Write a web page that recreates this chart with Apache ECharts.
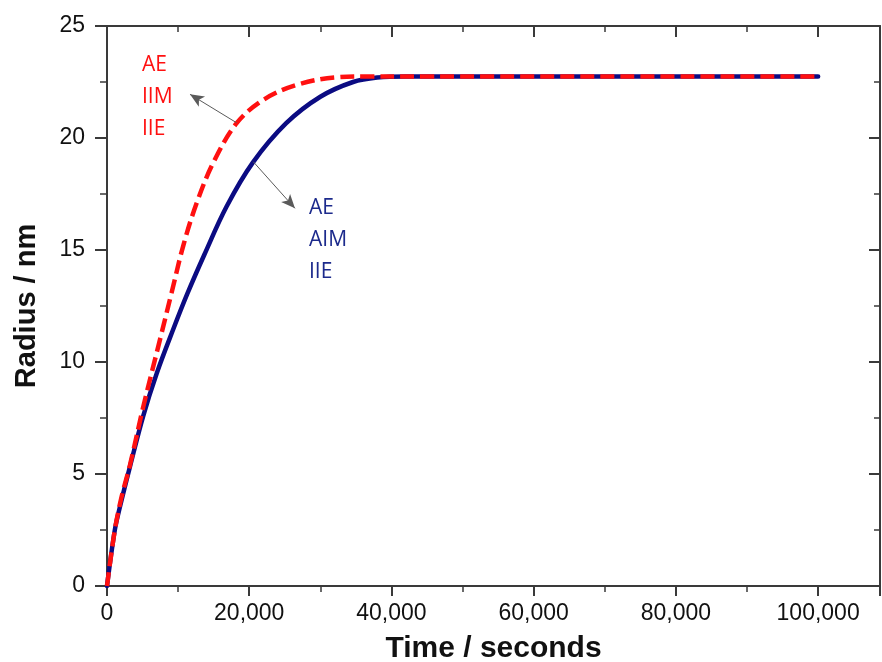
<!DOCTYPE html>
<html>
<head>
<meta charset="utf-8">
<title>Radius vs time</title>
<script src="https://cdn.jsdelivr.net/npm/echarts@6/dist/echarts.min.js"></script>
<style>
  html, body { margin: 0; padding: 0; background: #fff; }
  #chart { width: 882px; height: 662px; }
</style>
</head>
<body>
<div id="chart"></div>
<script>
// values
const timeBlue = [0, 1100, 1830, 3230, 5100, 7000, 9300, 11300, 13700, 16800, 20500, 25200, 30000, 34600, 38000, 42000, 50000, 100000]
const radiusBlue = [0, 2.5, 3.55, 5.33, 7.6, 9.5, 11.45, 13.05, 14.8, 16.93, 18.9, 20.66, 21.84, 22.5, 22.7, 22.75, 22.75, 22.75]

const timeRed = [0, 1100, 2060, 3230, 5100, 7450, 9090, 10730, 12610, 14950, 18230, 21970, 26670, 32290, 37000, 42000, 100000]
const radiusRed = [0, 2.5, 3.99, 5.4, 8.0, 11.0, 13.1, 15.2, 17.1, 18.9, 20.66, 21.7, 22.37, 22.71, 22.75, 22.75, 22.75]

const xTicks = [0, 20000, 40000, 60000, 80000, 100000]
const yTicks = [0, 5, 10, 15, 20, 25]

// annotation arrows: [tail, head] in data units
const redArrow = [[18230, 20.68], [11670, 21.95]]
const blueArrow = [[20570, 18.94], [26430, 16.86]]

const redLabels = ['AE', 'IIM', 'IIE']
const blueLabels = ['AE', 'AIM', 'IIE']

const BLUE = '#0b0b82'
const RED = '#ff1010'
const AXIS = '#3a3a3a'

const pairs = (xs, ys) => xs.map((x, i) => [x, ys[i]])

const chart = echarts.init(document.getElementById('chart'))

const fmt = v => v.toLocaleString('en-US')

const baseX = {
  type: 'value',
  min: 0,
  max: 108700,
  interval: 20000,
  splitLine: { show: false },
  axisLine: { show: true, onZero: false, lineStyle: { color: AXIS, width: 2 } }
}
const baseY = {
  type: 'value',
  min: 0,
  max: 25,
  interval: 5,
  splitLine: { show: false },
  axisLine: { show: true, onZero: false, lineStyle: { color: AXIS, width: 2 } }
}

function arrowLine(a) {
  return {
    silent: true,
    symbol: ['none', 'arrow'],
    symbolSize: [9, 14],
    label: { show: false },
    lineStyle: { color: '#5a5a5a', width: 1, type: 'solid' },
    data: [[{ coord: a[0] }, { coord: a[1] }]]
  }
}

function textBlock(labels, left, top, color) {
  return labels.map((s, i) => ({
    type: 'text',
    left: left,
    top: top + i * 32,
    style: {
      text: s,
      fill: color,
      font: '21px "Open Sans", sans-serif'
    }
  }))
}

chart.setOption({
  animation: false,
  backgroundColor: '#fff',
  grid: { left: 107, right: 2, top: 26, bottom: 76, containLabel: false, outerBoundsMode: 'none' },
  xAxis: [
    Object.assign({}, baseX, {
      position: 'bottom',
      name: 'Time / seconds',
      nameLocation: 'middle',
      nameGap: 48,
      nameTextStyle: { fontFamily: 'Liberation Sans', fontWeight: 'bold', fontSize: 30, color: '#111' },
      axisTick: { show: true, inside: false, length: 10, lineStyle: { color: AXIS, width: 2 } },
      minorTick: { show: true, splitNumber: 2, length: 6, lineStyle: { color: AXIS, width: 1.5 } },
      axisLabel: {
        margin: 16,
        fontFamily: 'Liberation Sans',
        fontSize: 23,
        color: '#111',
        showMaxLabel: false,
        formatter: v => (xTicks.indexOf(v) >= 0 ? fmt(v) : '')
      }
    }),
    Object.assign({}, baseX, {
      position: 'top',
      axisTick: { show: true, inside: true, length: 11, lineStyle: { color: AXIS, width: 2 } },
      minorTick: { show: true, splitNumber: 2, length: 6, lineStyle: { color: AXIS, width: 1.5 } },
      axisLabel: { show: false }
    })
  ],
  yAxis: [
    Object.assign({}, baseY, {
      position: 'left',
      name: 'Radius / nm',
      nameLocation: 'middle',
      nameGap: 66,
      nameTextStyle: { fontFamily: 'Liberation Sans', fontWeight: 'bold', fontSize: 29, color: '#111' },
      axisTick: { show: true, inside: false, length: 12, lineStyle: { color: AXIS, width: 2 } },
      minorTick: { show: true, splitNumber: 2, length: 7, lineStyle: { color: AXIS, width: 1.5 } },
      axisLabel: {
        margin: 22,
        fontFamily: 'Liberation Sans',
        fontSize: 23,
        color: '#111',
        formatter: v => (yTicks.indexOf(v) >= 0 ? String(v) : '')
      }
    }),
    Object.assign({}, baseY, {
      position: 'right',
      axisTick: { show: true, inside: true, length: 11, lineStyle: { color: AXIS, width: 2 } },
      minorTick: { show: true, splitNumber: 2, length: 6, lineStyle: { color: AXIS, width: 1.5 } },
      axisLabel: { show: false }
    })
  ],
  series: [
    {
      name: 'AE AIM IIE',
      type: 'line',
      data: pairs(timeBlue, radiusBlue),
      smooth: 0.35,
      showSymbol: false,
      lineStyle: { color: BLUE, width: 4.5, cap: 'round' },
      markLine: arrowLine(blueArrow),
      z: 2
    },
    {
      name: 'AE IIM IIE',
      type: 'line',
      data: pairs(timeRed, radiusRed),
      smooth: 0.35,
      showSymbol: false,
      lineStyle: { color: RED, width: 4.5, type: [14, 6] },
      markLine: arrowLine(redArrow),
      z: 3
    }
  ],
  graphic: textBlock(redLabels, 142, 55, RED).concat(textBlock(blueLabels, 309, 198, '#1c2a8c'))
})
</script>
</body>
</html>
